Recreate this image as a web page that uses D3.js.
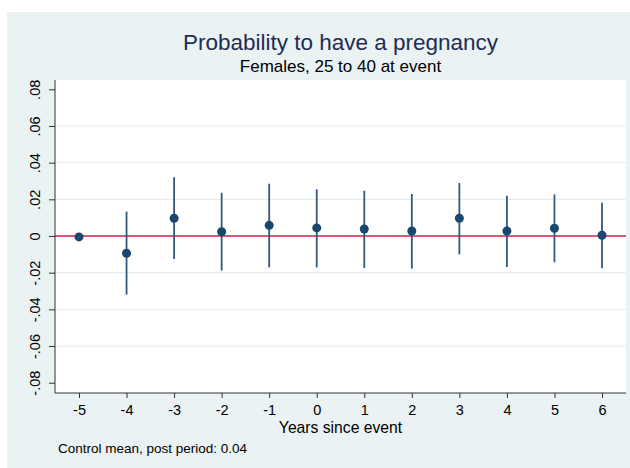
<!DOCTYPE html>
<html>
<head>
<meta charset="utf-8">
<script src="https://cdn.jsdelivr.net/npm/d3@7"></script>
<style>
body { margin: 0; background: #fff; }
svg text { font-family: "Liberation Sans", Arial, sans-serif; }
</style>
</head>
<body>
<div id="chart"></div>
<script>
// event-study estimates
var years = [-5, -4, -3, -2, -1, 0, 1, 2, 3, 4, 5, 6];
var estimates = [-0.0005, -0.0094, 0.0097, 0.0023, 0.0058, 0.0044, 0.0038, 0.0027, 0.0097, 0.0027, 0.0042, 0.0004];
var ciLow = [null, -0.032, -0.0125, -0.0189, -0.0171, -0.0171, -0.0175, -0.0178, -0.0100, -0.0169, -0.0143, -0.0176];
var ciHigh = [null, 0.0133, 0.0320, 0.0236, 0.0285, 0.0255, 0.0247, 0.0229, 0.0289, 0.0220, 0.0227, 0.0182];
var yTicks = [-0.08, -0.06, -0.04, -0.02, 0, 0.02, 0.04, 0.06, 0.08];

var w = 630, h = 468;
var plot = {left: 55, right: 626, top: 80, bottom: 393};

var svg = d3.select("#chart").append("svg")
	.attr("width", w)
	.attr("height", h);

svg.append("rect")
	.attr("x", 7).attr("y", 12)
	.attr("width", w - 7).attr("height", h - 12)
	.attr("fill", "#eaf2f3");

svg.append("rect")
	.attr("x", plot.left).attr("y", plot.top)
	.attr("width", plot.right - plot.left).attr("height", plot.bottom - plot.top)
	.attr("fill", "#fff");

var x = d3.scaleLinear().domain([-5, 6]).range([79, 602]);
var y = d3.scaleLinear().domain([-0.08, 0.08]).range([382.7, 89.3]);

// stata style labels: .08, -.02, 0 (plain hyphen)
function fmt(d) {
	if (Math.abs(d) < 1e-9) return "0";
	var s = Math.abs(d).toFixed(2).replace(/^0/, "");
	return (d < 0 ? "-" : "") + s;
}

// gridlines
svg.append("g").selectAll("line")
	.data(yTicks.filter(function(d) { return Math.abs(d) > 1e-9 && Math.abs(d) < 0.07; }))
	.enter().append("line")
	.attr("x1", plot.left).attr("x2", plot.right)
	.attr("y1", function(d) { return y(d); })
	.attr("y2", function(d) { return y(d); })
	.attr("stroke", "#e6eef0")
	.attr("stroke-width", 1.2);

// zero line
svg.append("line")
	.attr("x1", plot.left).attr("x2", plot.right)
	.attr("y1", y(0)).attr("y2", y(0))
	.attr("stroke", "#d41c46")
	.attr("stroke-width", 1.5);

// y axis
var yAxis = d3.axisLeft(y).tickValues(yTicks).tickFormat(fmt).tickSize(6).tickSizeOuter(0);
var gy = svg.append("g")
	.attr("transform", "translate(" + plot.left + ",0)")
	.call(yAxis);
gy.select(".domain").attr("d", "M0," + plot.top + "V" + plot.bottom).attr("stroke", "#333");
gy.selectAll(".tick line").attr("stroke", "#333");
gy.selectAll(".tick text")
	.attr("font-size", "14.5px")
	.attr("fill", "#000")
	.attr("text-anchor", "middle")
	.attr("dy", null)
	.attr("x", null)
	.attr("transform", "translate(-15,0) rotate(-90)");

// x axis
var xAxis = d3.axisBottom(x).tickValues(years).tickSize(5).tickSizeOuter(0);
var gx = svg.append("g")
	.attr("transform", "translate(0," + plot.bottom + ")")
	.call(xAxis);
gx.select(".domain").attr("d", "M" + plot.left + ",0H" + plot.right).attr("stroke", "#333");
gx.selectAll(".tick line").attr("stroke", "#333");
gx.selectAll(".tick text")
	.attr("font-size", "14.5px")
	.attr("fill", "#000")
	.attr("y", 12)
	.text(function(d) { return (d < 0 ? "-" : "") + Math.abs(d); });

// confidence intervals
var pts = years.map(function(d, i) {
	return {year: d, est: estimates[i], lo: ciLow[i], hi: ciHigh[i]};
});

svg.append("g").selectAll("line")
	.data(pts.filter(function(d) { return d.lo != null; }))
	.enter().append("line")
	.attr("x1", function(d) { return x(d.year); })
	.attr("x2", function(d) { return x(d.year); })
	.attr("y1", function(d) { return y(d.lo); })
	.attr("y2", function(d) { return y(d.hi); })
	.attr("stroke", "#34597f")
	.attr("stroke-width", 1.8);

svg.append("g").selectAll("circle")
	.data(pts)
	.enter().append("circle")
	.attr("cx", function(d) { return x(d.year); })
	.attr("cy", function(d) { return y(d.est); })
	.attr("r", 4.5)
	.attr("fill", "#1a476f");

// titles
var cx = (plot.left + plot.right) / 2;
svg.append("text")
	.attr("x", cx).attr("y", 50)
	.attr("text-anchor", "middle")
	.attr("font-size", "22.5px")
	.attr("fill", "#1e2d53")
	.text("Probability to have a pregnancy");

svg.append("text")
	.attr("x", cx).attr("y", 71.5)
	.attr("text-anchor", "middle")
	.attr("font-size", "17px")
	.attr("fill", "#000")
	.text("Females, 25 to 40 at event");

svg.append("text")
	.attr("x", cx).attr("y", 432.5)
	.attr("text-anchor", "middle")
	.attr("font-size", "15.7px")
	.attr("fill", "#000")
	.text("Years since event");

svg.append("text")
	.attr("x", 58).attr("y", 452.5)
	.attr("font-size", "13.5px")
	.attr("fill", "#000")
	.text("Control mean, post period: 0.04");
</script>
</body>
</html>
